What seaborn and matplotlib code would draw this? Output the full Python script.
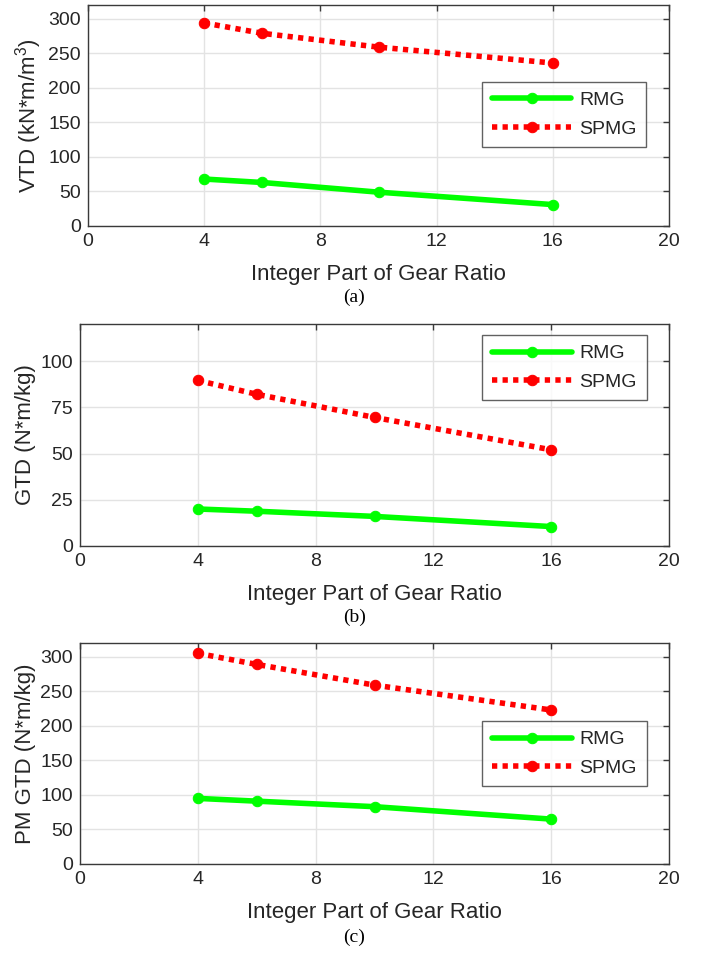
import matplotlib
matplotlib.use("Agg")
import matplotlib.pyplot as plt
import seaborn as sns
import pandas as pd

# ---- data ----
gear_ratio = [4, 6, 10, 16]
vtd_rmg = [68, 63, 49, 31]
vtd_spmg = [294, 279, 259, 236]
gtd_rmg = [20, 18.8, 16, 10.5]
gtd_spmg = [89.5, 82, 69.5, 52]
pmgtd_rmg = [95, 91, 83, 65]
pmgtd_spmg = [305, 289, 259, 223]
series_names = ["RMG", "SPMG"]
ylabels = ["VTD (kN*m/m$^3$)", "GTD (N*m/kg)", "PM GTD (N*m/kg)"]
captions = ["(a)", "(b)", "(c)"]
xlabel = "Integer Part of Gear Ratio"
xticks = [0, 4, 8, 12, 16, 20]
yticks_list = [[0, 50, 100, 150, 200, 250, 300],
               [0, 25, 50, 75, 100],
               [0, 50, 100, 150, 200, 250, 300]]
ylims = [320, 120, 320]

sns.set_style("white")
sans = "Liberation Sans"
plt.rcParams['font.family'] = [sans, 'DejaVu Sans']
plt.rcParams['mathtext.fontset'] = 'custom'
plt.rcParams['mathtext.rm'] = sans

W, H = 709, 959
fig = plt.figure(figsize=(W / 100, H / 100), dpi=100)

def box(l, r, t, b):
    return [l / W, 1 - b / H, (r - l) / W, (b - t) / H]

positions = [box(88, 669, 5, 226), box(80, 669, 324, 546), box(80, 669, 643, 864)]
legend_locs = [(0.678, 0.652), (0.683, 0.950), (0.683, 0.647)]
datasets = [(vtd_rmg, vtd_spmg), (gtd_rmg, gtd_spmg), (pmgtd_rmg, pmgtd_spmg)]
cap_y = [1 - 297 / H, 1 - 617 / H, 1 - 937 / H]
edge = "#3a3a3a"
txt = "#262626"

for i in range(3):
    ax = fig.add_axes(positions[i])
    rmg, spmg = datasets[i]
    df = pd.DataFrame({"x": gear_ratio * 2, "y": list(rmg) + list(spmg),
                       "s": [series_names[0]] * 4 + [series_names[1]] * 4})
    sns.lineplot(data=df[df.s == "RMG"], x="x", y="y", ax=ax, color="#00ff00",
                 linewidth=4, marker="o", markersize=7.5, markeredgecolor="#00ff00",
                 label="RMG")
    sns.lineplot(data=df[df.s == "SPMG"], x="x", y="y", ax=ax, color="#ff0000",
                 linewidth=4, marker="o", markersize=7.5, markeredgecolor="#ff0000",
                 linestyle=(0, (0.95, 0.95)), dash_capstyle="butt", label="SPMG")
    ax.set_xlim(0, 20)
    ax.set_ylim(0, ylims[i])
    ax.set_xticks(xticks)
    ax.set_yticks(yticks_list[i])
    ax.grid(True, color="#e3e3e3", linewidth=1)
    ax.set_axisbelow(True)
    for sp in ax.spines.values():
        sp.set_color(edge)
        sp.set_linewidth(1)
        sp.set_visible(True)
    ax.tick_params(direction="in", length=4, width=1, colors=edge,
                   labelsize=14, top=True, right=True, labelcolor=txt, pad=5)
    ax.set_xlabel(xlabel, fontsize=16, color=txt, labelpad=10)
    ax.set_ylabel(ylabels[i], fontsize=16, color=txt, labelpad=3)
    leg = ax.legend(loc="upper left", bbox_to_anchor=legend_locs[i], fontsize=14,
                    frameon=True, fancybox=False, edgecolor=edge,
                    handlelength=4.1, handletextpad=0.4, borderpad=0.5,
                    labelspacing=0.55, borderaxespad=0)
    leg.get_frame().set_linewidth(1)
    fig.text(0.5, cap_y[i], captions[i], ha="center", va="center",
             fontsize=14, family="Liberation Serif", color="black")

fig.savefig("out.png", dpi=100)
